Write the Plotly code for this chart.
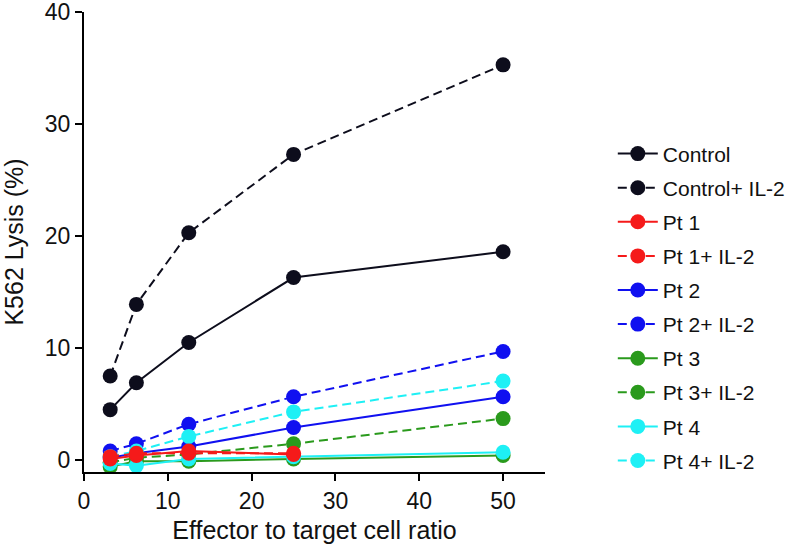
import plotly.graph_objects as go

ratios = [3.125, 6.25, 12.5, 25, 50]
ratios_pt1 = [3.125, 6.25, 12.5, 25]

control = [4.5, 6.9, 10.5, 16.3, 18.6]
control_il2 = [7.5, 13.9, 20.3, 27.3, 35.3]
pt1 = [0.1, 0.4, 0.8, 0.5]
pt1_il2 = [0.3, 0.6, 0.6, 0.6]
pt2 = [0.2, 0.6, 1.2, 2.9, 5.65]
pt2_il2 = [0.8, 1.45, 3.2, 5.65, 9.7]
pt3 = [-0.6, -0.1, -0.1, 0.1, 0.4]
pt3_il2 = [-0.2, 0.2, 0.5, 1.45, 3.7]
pt4 = [-0.3, -0.5, 0.1, 0.3, 0.7]
pt4_il2 = [0.3, 0.8, 2.1, 4.3, 7.05]

BLACK = "#0d0d1c"
RED = "#f51a1a"
BLUE = "#1010f0"
GREEN = "#2a9a1c"
CYAN = "#1ef0f5"

series = [
    ("Control", ratios, control, BLACK, "solid"),
    ("Control+ IL-2", ratios, control_il2, BLACK, "dash"),
    ("Pt 1", ratios_pt1, pt1, RED, "solid"),
    ("Pt 1+ IL-2", ratios_pt1, pt1_il2, RED, "dash"),
    ("Pt 2", ratios, pt2, BLUE, "solid"),
    ("Pt 2+ IL-2", ratios, pt2_il2, BLUE, "dash"),
    ("Pt 3", ratios, pt3, GREEN, "solid"),
    ("Pt 3+ IL-2", ratios, pt3_il2, GREEN, "dash"),
    ("Pt 4", ratios, pt4, CYAN, "solid"),
    ("Pt 4+ IL-2", ratios, pt4_il2, CYAN, "dash"),
]

# draw order: red last so it sits on top
draw_order = [0, 1, 4, 5, 6, 7, 8, 9, 2, 3]

fig = go.Figure()
for i in draw_order:
    name, xs, ys, col, dash = series[i]
    fig.add_trace(go.Scatter(
        x=xs, y=ys, name=name, mode="lines+markers",
        line=dict(color=col, width=2, dash="9px,5px" if dash == "dash" else "solid"),
        marker=dict(color=col, size=15),
        legendrank=i + 1, legendgroup=name,
    ))

FAM = "Liberation Sans, Arial, sans-serif"
tick_font = dict(family=FAM, size=23, color="#111")
title_font = dict(family=FAM, size=25, color="#111")
fig.update_layout(
    width=800, height=552,
    margin=dict(l=84, r=255, t=12, b=80),
    plot_bgcolor="white", paper_bgcolor="white",
    showlegend=True,
    legend=dict(xref="container", yref="paper", x=0.766, y=0.736,
                xanchor="left", yanchor="top",
                font=dict(family=FAM, size=21, color="#111"),
                tracegroupgap=3.8, itemwidth=40),
    xaxis=dict(range=[0, 55], tickvals=[0, 10, 20, 30, 40, 50], showgrid=False, zeroline=False,
               showline=True, linecolor="black", linewidth=2, ticks="outside", ticklen=7,
               tickwidth=2, tickcolor="black", tickfont=tick_font, automargin=False,
               ticklabeloverflow="allow",
               title=dict(text="Effector to target cell ratio", font=title_font, standoff=9)),
    yaxis=dict(range=[-1.07, 40.02], tickvals=[0, 10, 20, 30, 40], showgrid=False, zeroline=False,
               showline=True, linecolor="black", linewidth=2, ticks="outside", ticklen=7,
               tickwidth=2, tickcolor="black", tickfont=tick_font, automargin=False,
               ticklabeloverflow="allow",
               title=dict(text="K562 Lysis (%)", font=title_font, standoff=28)),
)

fig.write_html("out.html", config={"displayModeBar": False},
               post_script="document.body.style.margin='0';")
